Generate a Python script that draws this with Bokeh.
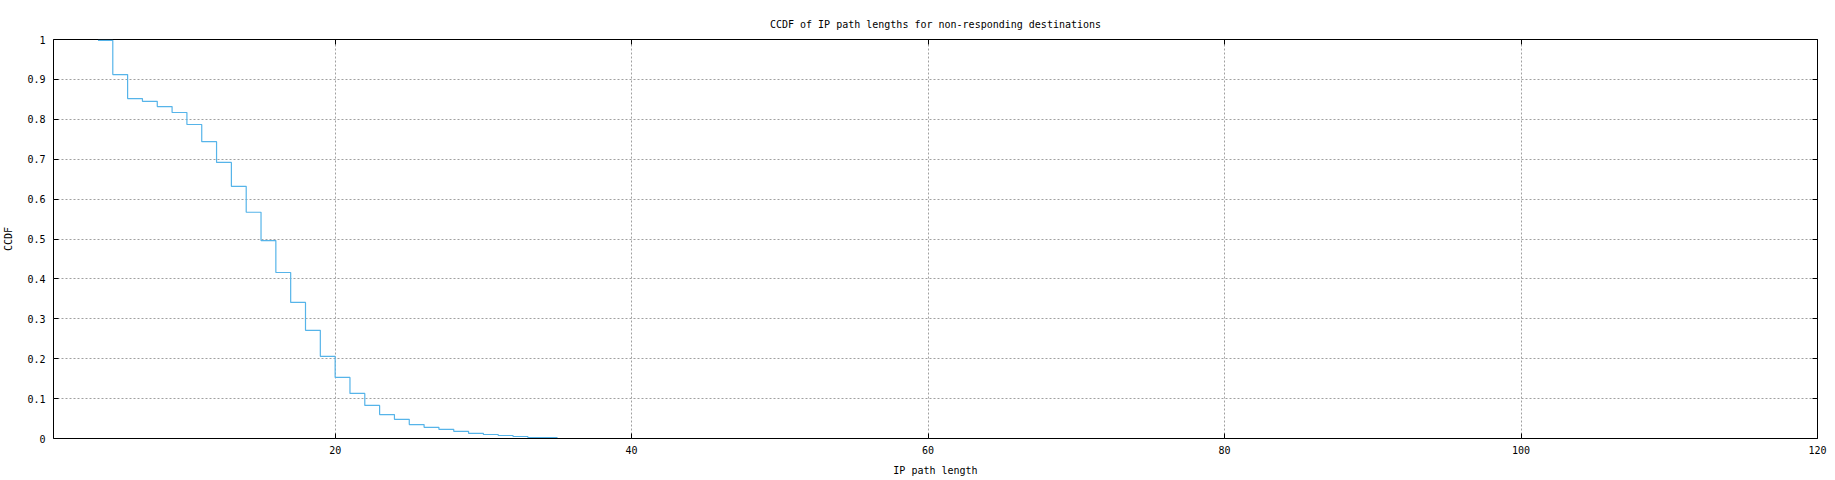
from bokeh.plotting import figure
from bokeh.models import Range1d, FixedTicker, LinearAxis, ColumnDataSource
from bokeh.embed import file_html
from bokeh.resources import INLINE

# ---- data ----
path_length = [4, 5, 6, 7, 8, 9, 10, 11, 12, 13, 14, 15, 16, 17, 18, 19, 20,
               21, 22, 23, 24, 25, 26, 27, 28, 29, 30, 31, 32, 33, 34, 35]
ccdf = [0.998, 0.912, 0.852, 0.845, 0.832, 0.817, 0.787, 0.744, 0.692, 0.632,
        0.567, 0.496, 0.416, 0.341, 0.271, 0.206, 0.153, 0.113, 0.083, 0.060,
        0.048, 0.035, 0.028, 0.023, 0.018, 0.013, 0.010, 0.0075, 0.005, 0.0025,
        0.0025, 0.0025]
x_ticks = [20, 40, 60, 80, 100, 120]
y_ticks = [0, 0.1, 0.2, 0.3, 0.4, 0.5, 0.6, 0.7, 0.8, 0.9, 1]
y_tick_labels = ["0", "0.1", "0.2", "0.3", "0.4", "0.5", "0.6", "0.7", "0.8", "0.9", "1"]
title_text = "CCDF of IP path lengths for non-responding destinations"
x_label = "IP path length"
y_label = "CCDF"

FONT = "DejaVu Sans Mono"
FS = "10px"

p = figure(frame_width=1764, frame_height=399, output_backend="svg", toolbar_location=None,
           x_range=Range1d(1, 120), y_range=Range1d(0, 1),
           min_border_left=44, min_border_right=11, min_border_top=39,
           min_border_bottom=40, x_axis_label=x_label, y_axis_label=y_label)
p.title.text = title_text
p.title.text_font = FONT
p.title.text_font_size = FS
p.title.text_font_style = "normal"
p.title.align = "center"
p.title.text_color = "black"
p.title.standoff = 19

p.outline_line_color = "black"
p.outline_line_width = 1
p.outline_line_alpha = 1
p.background_fill_color = "white"
p.border_fill_color = "white"

p.xaxis.ticker = FixedTicker(ticks=x_ticks)
p.yaxis.ticker = FixedTicker(ticks=y_ticks)
p.yaxis.major_label_overrides = dict(zip(y_ticks, y_tick_labels))

for ax in p.xaxis + p.yaxis:
    ax.axis_line_color = None
    ax.major_tick_in = 5
    ax.major_tick_out = 0
    ax.minor_tick_line_color = None
    ax.major_tick_line_color = "black"
    ax.major_label_text_font = FONT
    ax.major_label_text_font_size = FS
    ax.major_label_text_color = "black"
    ax.axis_label_text_font = FONT
    ax.axis_label_text_font_size = FS
    ax.axis_label_text_font_style = "normal"
    ax.axis_label_text_color = "black"

p.xaxis.major_label_standoff = 7
p.yaxis.major_label_standoff = 8
p.xaxis.axis_label_standoff = 8
p.yaxis.axis_label_standoff = 10

# mirror ticks on top and right
top_ax = LinearAxis(ticker=FixedTicker(ticks=x_ticks), major_label_overrides={t: "" for t in x_ticks})
right_ax = LinearAxis(ticker=FixedTicker(ticks=y_ticks), major_label_overrides={t: "" for t in y_ticks})
for ax in (top_ax, right_ax):
    ax.axis_line_color = None
    ax.major_tick_in = 5
    ax.major_tick_out = 0
    ax.minor_tick_line_color = None
    ax.major_label_standoff = 0
p.add_layout(top_ax, "above")
p.add_layout(right_ax, "right")

for g in (p.xgrid[0], p.ygrid[0]):
    g.grid_line_color = "#a0a0a0"
    g.grid_line_dash = "2 2"
    g.grid_line_width = 1
p.xgrid.ticker = FixedTicker(ticks=x_ticks)
p.ygrid.ticker = FixedTicker(ticks=y_ticks)

src = ColumnDataSource(dict(x=path_length, y=ccdf))
p.step("x", "y", source=src, mode="after", line_color="#56b4e9", line_width=1.2)

open("out.html", "w").write(file_html(p, INLINE))
